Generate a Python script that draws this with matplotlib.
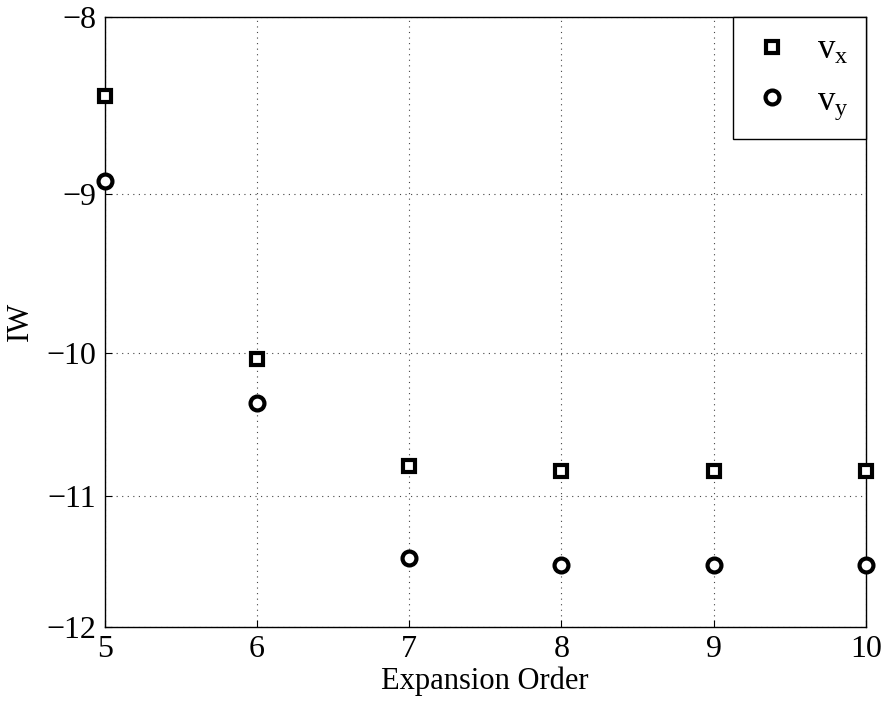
import numpy as np
import matplotlib
matplotlib.use("Agg")
import matplotlib.pyplot as plt

# expansion order vs IW
orders = [5, 6, 7, 8, 9, 10]
iw_vx = [-8.43, -10.04, -10.78, -10.82, -10.82, -10.82]
iw_vy = [-8.92, -10.34, -11.46, -11.52, -11.52, -11.52]
yticks = [-8, -9, -10, -11, -12]

plt.rcParams['font.family'] = ['Liberation Serif', 'DejaVu Serif']
plt.rcParams['mathtext.fontset'] = 'custom'
plt.rcParams['mathtext.rm'] = 'Liberation Serif'
plt.rcParams['mathtext.it'] = 'Liberation Serif'

fig = plt.figure(figsize=(8.87, 7.02), dpi=100)
ax = fig.add_axes([0.118, 0.107, 0.858, 0.869])

# y axis is log of |IW|, drawn with -8 on top
ax.set_yscale('function', functions=(lambda y: -np.log(np.abs(y)),
                                     lambda t: -np.exp(-t)))

ax.plot(orders, iw_vx, linestyle='none', marker='s', markersize=8,
        markerfacecolor='white', markeredgecolor='black', markeredgewidth=3,
        label=r'v$_{\mathrm{x}}$', clip_on=False, zorder=5)
ax.plot(orders, iw_vy, linestyle='none', marker='o', markersize=10,
        markerfacecolor='white', markeredgecolor='black', markeredgewidth=3,
        label=r'v$_{\mathrm{y}}$', clip_on=False, zorder=5)

ax.set_xlim(5, 10)
ax.set_ylim(-12, -8)
ax.set_xticks(orders)
ax.set_yticks(yticks)
ax.set_yticklabels(['\u22128', '\u22129', '\u221210', '\u221211', '\u221212'])
ax.minorticks_off()
ax.tick_params(direction='in', length=5, labelsize=23, pad=6)
ax.grid(True, linestyle=(0, (1, 4)), color='#444444', linewidth=0.8)
for s in ax.spines.values():
    s.set_linewidth(1.0)

ax.set_xlabel('Expansion Order', fontsize=22, labelpad=2)
ax.set_ylabel('IW', fontsize=22, labelpad=8)

leg = ax.legend(loc='upper right', fontsize=25, borderaxespad=0,
                fancybox=False, edgecolor='black', framealpha=1,
                handlelength=1.2, handletextpad=0.7, labelspacing=0.5,
                borderpad=0.5)
leg.get_frame().set_linewidth(1.0)

fig.savefig('out.png', dpi=100)
